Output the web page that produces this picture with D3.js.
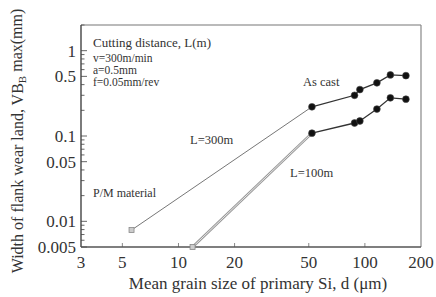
<!DOCTYPE html>
<html>
<head>
<meta charset="utf-8">
<script src="https://cdn.jsdelivr.net/npm/d3@7"></script>
<style>
  html, body { margin: 0; padding: 0; background: #fff; }
  svg { display: block; font-family: "Liberation Serif", "DejaVu Serif", serif; }
</style>
</head>
<body>
<svg id="chart" width="436" height="297"></svg>
<script>
// ---- data ----
const asCastD = [52, 88, 94, 116, 137, 166];          // mean grain size (µm), as cast
const vbL300 = [0.22, 0.30, 0.35, 0.42, 0.52, 0.51];  // VB max (mm), L=300m
const vbL100 = [0.108, 0.142, 0.150, 0.207, 0.28, 0.27]; // VB max (mm), L=100m
const pmD = [5.6, 11.9];          // P/M material grain size: L=300m, L=100m
const pmVB = [0.0079, 0.005];     // P/M material VB max: L=300m, L=100m
const xTicks = [3, 5, 10, 20, 50, 100, 200];
const yTicks = [1, 0.5, 0.1, 0.05, 0.01, 0.005];
const yTickLabels = ["1", "0.5", "0.1", "0.05", "0.01", "0.005"];
const conditions = ["Cutting distance, L(m)", "v=300m/min", "a=0.5mm", "f=0.05mm/rev"];

const svg = d3.select("#chart");
const L = 81, R = 421, T = 25, B = 247;
const x = d3.scaleLog().domain([3, 200]).range([L, R]);
const y = d3.scaleLog().domain([0.005, 2]).range([B, T]);
const ink = "#333";

// frame (top/right lighter)
svg.append("line").attr("x1", L).attr("x2", R).attr("y1", T).attr("y2", T).attr("stroke", "#777").attr("stroke-width", 1.2);
svg.append("line").attr("x1", R).attr("x2", R).attr("y1", T).attr("y2", B).attr("stroke", "#888").attr("stroke-width", 1.2);

// y axis with inner log ticks
const minorY = [];
[0.001, 0.01, 0.1, 1].forEach(dec => { for (let k = 1; k <= 9; k++) { const v = dec * k; if (v >= 0.005 && v <= 2) minorY.push(v); } });
const yAxis = d3.axisRight(y).tickValues(minorY).tickSize(0).tickFormat("");
const gy = svg.append("g").attr("transform", `translate(${L},0)`);
gy.selectAll("line.mt").data(minorY).join("line").attr("class", "mt")
  .attr("x1", 0).attr("x2", d => (yTicks.includes(+d.toPrecision(3)) ? 6 : 3.5))
  .attr("y1", d => y(d)).attr("y2", d => y(d)).attr("stroke", "#666").attr("stroke-width", 1);

// y tick labels
svg.append("g").selectAll("text").data(yTicks).join("text")
  .attr("x", 76).attr("y", d => y(d)).attr("dy", "0.35em")
  .attr("text-anchor", "end").attr("font-size", 17).attr("fill", ink)
  .text((d, i) => yTickLabels[i]);

// x axis inner ticks
svg.append("g").selectAll("line").data(xTicks.slice(1, -1)).join("line")
  .attr("x1", d => x(d)).attr("x2", d => x(d)).attr("y1", B).attr("y2", B - 4)
  .attr("stroke", "#888").attr("stroke-width", 1);
svg.append("g").selectAll("text").data(xTicks).join("text")
  .attr("x", d => x(d)).attr("y", 262).attr("dy", "0.35em")
  .attr("text-anchor", "middle").attr("font-size", 17).attr("fill", ink)
  .text(d => d);

// axes lines (darker)
svg.append("line").attr("x1", L).attr("x2", L).attr("y1", T).attr("y2", B).attr("stroke", "#444").attr("stroke-width", 1.4);
svg.append("line").attr("x1", L).attr("x2", R).attr("y1", B).attr("y2", B).attr("stroke", "#555").attr("stroke-width", 1.6);

// P/M connecting lines
// L=300m: thin gray line
svg.append("line").attr("x1", x(pmD[0])).attr("y1", y(pmVB[0])).attr("x2", x(asCastD[0])).attr("y2", y(vbL300[0]))
  .attr("stroke", "#777").attr("stroke-width", 1);
// L=100m: double gray line
svg.append("line").attr("x1", x(pmD[1])).attr("y1", y(pmVB[1])).attr("x2", x(asCastD[0])).attr("y2", y(vbL100[0]))
  .attr("stroke", "#999").attr("stroke-width", 2.6);
svg.append("line").attr("x1", x(pmD[1])).attr("y1", y(pmVB[1])).attr("x2", x(asCastD[0])).attr("y2", y(vbL100[0]))
  .attr("stroke", "#eee").attr("stroke-width", 0.9);

// as cast series
const line = d3.line().x(d => x(d[0])).y(d => y(d[1]));
[vbL300, vbL100].forEach(vals => {
  const pts = asCastD.map((d, i) => [d, vals[i]]);
  svg.append("path").attr("d", line(pts)).attr("fill", "none").attr("stroke", "#333").attr("stroke-width", 1.3);
  svg.append("g").selectAll("circle").data(pts).join("circle")
    .attr("cx", d => x(d[0])).attr("cy", d => y(d[1])).attr("r", 3.4)
    .attr("fill", "#111").attr("stroke", "#444").attr("stroke-width", 0.6);
});

// P/M markers (small squares)
svg.append("g").selectAll("rect").data(pmD.map((d, i) => [d, pmVB[i]])).join("rect")
  .attr("x", d => x(d[0]) - 2.5).attr("y", d => y(d[1]) - 2.5).attr("width", 5).attr("height", 5)
  .attr("fill", "#ccc").attr("stroke", "#888").attr("stroke-width", 0.8);

// annotations
const ann = svg.append("g").attr("fill", ink);
ann.append("text").attr("x", 93).attr("y", 42).attr("dy", "0.35em").attr("font-size", 13).text(conditions[0]);
[58, 70, 82].forEach((yy, i) => {
  ann.append("text").attr("x", 93).attr("y", yy).attr("dy", "0.35em").attr("font-size", 11.5).text(conditions[i + 1]);
});
ann.append("text").attr("x", 303).attr("y", 82).attr("dy", "0.35em").attr("font-size", 12.5).text("As cast");
ann.append("text").attr("x", 190).attr("y", 140).attr("dy", "0.35em").attr("font-size", 12.5).text("L=300m");
ann.append("text").attr("x", 290).attr("y", 173).attr("dy", "0.35em").attr("font-size", 12.5).text("L=100m");
ann.append("text").attr("x", 93).attr("y", 193).attr("dy", "0.35em").attr("font-size", 12).text("P/M material");

// axis titles
svg.append("text").attr("x", 258).attr("y", 283).attr("dy", "0.35em").attr("text-anchor", "middle")
  .attr("font-size", 17).attr("fill", ink).text("Mean grain size of primary Si, d (μm)");
const yt = svg.append("text").attr("transform", "translate(17,141) rotate(-90)").attr("text-anchor", "middle")
  .attr("dy", "0.35em").attr("font-size", 16).attr("fill", ink);
yt.append("tspan").text("Width of flank wear land, VB");
yt.append("tspan").attr("font-size", 11).attr("dy", "0.35em").text("B");
yt.append("tspan").attr("dy", "-0.3em").text(" max(mm)");
</script>
</body>
</html>
